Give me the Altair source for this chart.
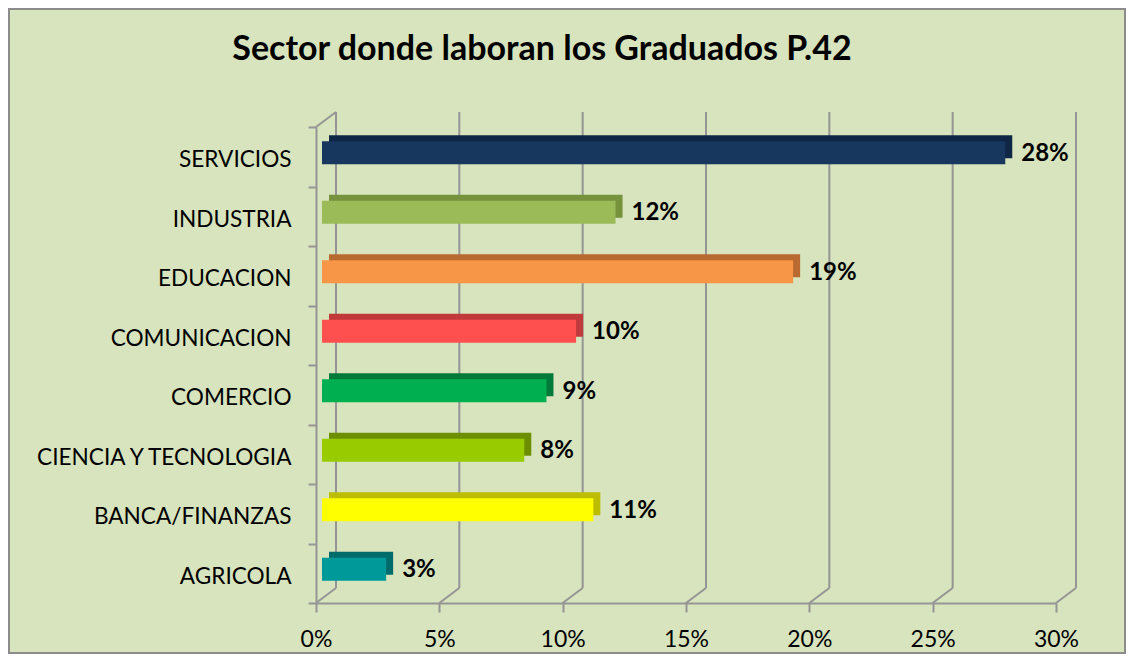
import altair as alt
import pandas as pd

title_text = "Sector donde laboran los Graduados P.42"
categories = ["SERVICIOS", "INDUSTRIA", "EDUCACION", "COMUNICACION", "COMERCIO",
              "CIENCIA Y TECNOLOGIA", "BANCA/FINANZAS", "AGRICOLA"]
values = [27.7, 11.9, 19.1, 10.3, 9.1, 8.2, 11.0, 2.6]
labels = ["28%", "12%", "19%", "10%", "9%", "8%", "11%", "3%"]
front_colors = ["#17375E", "#9BBB59", "#F79646", "#FF5050", "#00B050", "#99CC00", "#FFFF00", "#009999"]
depth_colors = ["#0F2744", "#76923C", "#B86A30", "#C0393B", "#007A38", "#6B8F00", "#BDBD00", "#006B6B"]
x_ticks = [0, 5, 10, 15, 20, 25, 30]

FONT = "Lato"
GRID = "#959595"

df = pd.DataFrame({"cat": categories, "value": values, "label": labels,
                   "front": front_colors, "depth": depth_colors})
ticks_df = pd.DataFrame({"t": x_ticks})
one = pd.DataFrame({"t": [title_text]})

xscale = alt.Scale(domain=[0, 30], nice=False, zero=True)
yscale = alt.Scale(domain=categories, paddingInner=0, paddingOuter=0)

x_axis = alt.Axis(values=x_ticks, labelExpr="datum.value + '%'", grid=False,
                  domainColor=GRID, domainWidth=2, tickColor=GRID, tickWidth=2,
                  tickSize=9, labelFont=FONT, labelFontSize=23, labelColor="#000000",
                  labelPadding=16, labelFlush=False, labelOverlap=False, title=None)
y_axis = alt.Axis(tickBand="extent", domainColor=GRID, domainWidth=2, tickColor=GRID,
                  tickWidth=2, tickSize=8, labelFont=FONT, labelFontSize=22.6,
                  labelColor="#000000", labelPadding=17, labelLimit=400, labelOffset=3,
                  title=None, grid=False)

grid = alt.Chart(ticks_df).mark_rule(xOffset=20, color=GRID, strokeWidth=2).encode(
    x=alt.X("t:Q", scale=xscale, axis=x_axis),
    y=alt.value(-15), y2=alt.value(461))

diag = alt.Chart(ticks_df).mark_rule(x2Offset=20, color=GRID, strokeWidth=2).encode(
    x=alt.X("t:Q", scale=xscale, axis=x_axis), x2=alt.X2("t"),
    y=alt.value(476), y2=alt.value(461))

topdiag = alt.Chart(one).mark_rule(color=GRID, strokeWidth=2).encode(
    x=alt.value(0), x2=alt.value(20), y=alt.value(0), y2=alt.value(-15))

depth = alt.Chart(df).mark_bar(size=23, xOffset=13, yOffset=-10).encode(
    x=alt.X("value:Q", scale=xscale, axis=x_axis),
    y=alt.Y("cat:N", scale=yscale, axis=y_axis),
    color=alt.Color("depth:N", scale=None))

front = alt.Chart(df).mark_bar(size=23, xOffset=6, yOffset=-4).encode(
    x=alt.X("value:Q", scale=xscale, axis=x_axis),
    y=alt.Y("cat:N", scale=yscale, axis=y_axis),
    color=alt.Color("front:N", scale=None))

text = alt.Chart(df).mark_text(align="left", baseline="middle", dx=22, dy=-3, font=FONT,
                               fontWeight="bold", fontSize=24, color="#000000").encode(
    x=alt.X("value:Q", scale=xscale, axis=x_axis),
    y=alt.Y("cat:N", scale=yscale, axis=y_axis),
    text="label:N")

title = alt.Chart(one).mark_text(align="center", baseline="middle", font=FONT, fontWeight="bold",
                                 fontSize=34, color="#000000").encode(
    x=alt.value(226), y=alt.value(-77), text="t:N")

border = alt.Chart(one).mark_rect(fillOpacity=0, stroke="#8C8C8C", strokeWidth=2).encode(
    x=alt.value(-307), x2=alt.value(809), y=alt.value(-118), y2=alt.value(526))

chart = alt.layer(grid, diag, topdiag, depth, front, text, title, border).properties(
    width=740, height=476,
    autosize=alt.AutoSizeParams(type="none"),
    padding={"left": 308, "top": 119, "right": 70, "bottom": 51},
    background="#D7E4BD",
).configure_view(strokeWidth=0)

chart.save("out.html", embed_options={"renderer": "svg", "actions": False})
